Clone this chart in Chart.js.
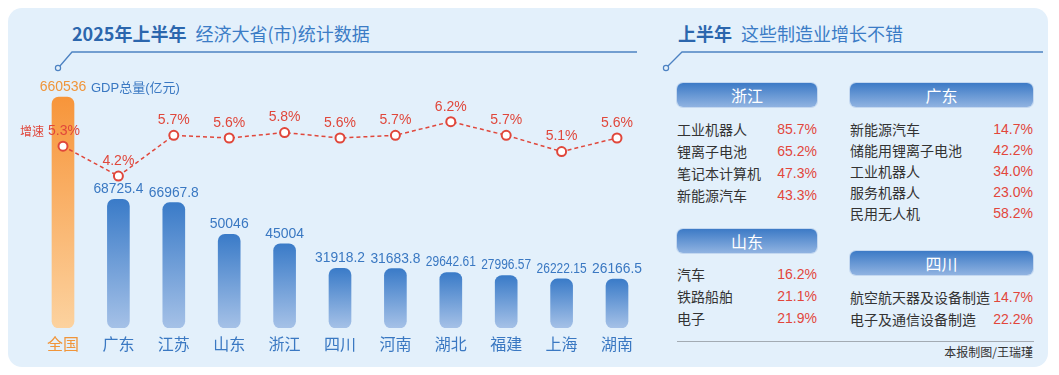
<!DOCTYPE html>
<html>
<head>
<meta charset="utf-8">
<script src="https://cdn.jsdelivr.net/npm/chart.js@4/dist/chart.umd.min.js"></script>
<style>
  html, body { margin: 0; padding: 0; background: #fff; }
  body { width: 1059px; height: 375px; position: relative; overflow: hidden;
         font-family: "Liberation Sans", "Noto Sans CJK SC", sans-serif; }
  .panel { position: absolute; left: 8px; top: 8px; width: 1040px; height: 359px;
           background: #e3f0fb; border-radius: 14px; }
  .title { position: absolute; top: 21px; font-family: "Noto Sans CJK SC", sans-serif;
           font-size: 18px; line-height: 24px; white-space: nowrap; color: #3b7cc6; }
  .title b { color: #2b66ad; font-weight: 700; margin-right: 9px; }
  #chartBox { position: absolute; left: 0; top: 0; }
  .unit { position: absolute; left: 91px; top: 79px; font-size: 13px; line-height: 18px;
          color: #3a78c2; white-space: nowrap; }
  .head { position: absolute; height: 24px; line-height: 24px; border-radius: 6px;
          background: linear-gradient(#3c7ac6, #90b3e1); box-shadow: 0 0 0 1px #c4d8f0;
          color: #fff; text-align: center; font-size: 16px;
          font-family: "Noto Sans CJK SC", sans-serif; }
  .row { position: absolute; height: 20px; line-height: 20px; font-size: 14px; white-space: nowrap; }
  .row .k { position: absolute; left: 0; color: #333; font-family: "Noto Sans CJK SC", sans-serif; }
  .row .v { position: absolute; right: 0; color: #e2463b; }
  .rule { position: absolute; left: 677px; top: 341px; width: 357px; height: 1px; background: #a3abb3; }
  .credit { position: absolute; right: 26px; top: 343px; font-size: 12px; line-height: 18px;
            color: #333; font-family: "Noto Sans CJK SC", sans-serif; }
</style>
</head>
<body>
<div class="panel"></div>

<svg width="1059" height="375" style="position:absolute;left:0;top:0">
  <polyline points="59.5,66.5 72,52 637,52" fill="none" stroke="#4d82c2" stroke-width="1.3"/>
  <circle cx="58" cy="68" r="2.6" fill="#e3f0fb" stroke="#4d82c2" stroke-width="1.2"/>
  <polyline points="667.5,66.5 682,52 1043,52" fill="none" stroke="#4d82c2" stroke-width="1.3"/>
  <circle cx="666" cy="68" r="2.6" fill="#e3f0fb" stroke="#4d82c2" stroke-width="1.2"/>
</svg>

<div class="title" style="left:72px"><b>2025年上半年</b>经济大省(市)统计数据</div>
<div class="title" style="left:678px"><b>上半年</b>这些制造业增长不错</div>

<canvas id="chartBox" width="660" height="375"></canvas>
<div class="unit">GDP总量(亿元)</div>

<div id="tables"></div>
<div class="rule"></div>
<div class="credit">本报制图/王瑞瑾</div>

<script>
// Datos del gráfico
const categories = ['全国', '广东', '江苏', '山东', '浙江', '四川', '河南', '湖北', '福建', '上海', '湖南'];
const gdp = [660536, 68725.4, 66967.8, 50046, 45004, 31918.2, 31683.8, 29642.61, 27996.57, 26222.15, 26166.5];
const gdpText = ['660536', '68725.4', '66967.8', '50046', '45004', '31918.2', '31683.8', '29642.61', '27996.57', '26222.15', '26166.5'];
const growth = [5.3, 4.2, 5.7, 5.6, 5.8, 5.6, 5.7, 6.2, 5.7, 5.1, 5.6];

// Tablas de manufactura
const zjItems = ['工业机器人', '锂离子电池', '笔记本计算机', '新能源汽车'];
const zjRates = [85.7, 65.2, 47.3, 43.3];
const gdItems = ['新能源汽车', '储能用锂离子电池', '工业机器人', '服务机器人', '民用无人机'];
const gdRates = [14.7, 42.2, 34.0, 23.0, 58.2];
const sdItems = ['汽车', '铁路船舶', '电子'];
const sdRates = [16.2, 21.1, 21.9];
const scItems = ['航空航天器及设备制造', '电子及通信设备制造'];
const scRates = [14.7, 22.2];

const BLUE = '#3a78c2';
const ORANGE = '#f0953a';
const RED = '#e0473b';
const NUM_FONT = '"Liberation Sans", Arial, sans-serif';

/**
 * Construye un bloque de tabla (cabecera + filas)
 */
function buildTable(host, name, items, rates, box) {
  const head = document.createElement('div');
  head.className = 'head';
  head.style.left = box.x + 'px';
  head.style.top = box.y + 'px';
  head.style.width = box.w + 'px';
  head.textContent = name;
  host.appendChild(head);

  items.forEach((item, i) => {
    const row = document.createElement('div');
    row.className = 'row';
    row.style.left = box.x + 'px';
    row.style.width = box.w + 'px';
    row.style.top = (box.rowTop + i * box.step - 10) + 'px';
    row.innerHTML = '<span class="k"></span><span class="v"></span>';
    row.querySelector('.k').textContent = item;
    row.querySelector('.v').textContent = rates[i].toFixed(1) + '%';
    host.appendChild(row);
  });
}

const tables = document.getElementById('tables');
buildTable(tables, '浙江', zjItems, zjRates, { x: 677, y: 83, w: 140, rowTop: 129, step: 22 });
buildTable(tables, '广东', gdItems, gdRates, { x: 850, y: 83, w: 183, rowTop: 129, step: 21 });
buildTable(tables, '山东', sdItems, sdRates, { x: 677, y: 229, w: 140, rowTop: 274, step: 22 });
buildTable(tables, '四川', scItems, scRates, { x: 850, y: 251, w: 183, rowTop: 296.5, step: 22 });

/**
 * Degradado vertical para cada barra, de su tope a la base
 */
function barGradient(context, top, bottom) {
  const chart = context.chart;
  if (!chart.chartArea || context.type !== 'data') return top;
  const scale = chart.scales[context.dataset.yAxisID];
  const v = context.raw;
  if (v == null) return top;
  const y0 = scale.getPixelForValue(v);
  const y1 = chart.chartArea.bottom;
  const g = chart.ctx.createLinearGradient(0, y0, 0, y1);
  g.addColorStop(0, top);
  g.addColorStop(1, bottom);
  return g;
}

// Etiquetas de valores encima de barras y puntos
const valueLabels = {
  id: 'valueLabels',
  afterDatasetsDraw(chart) {
    const ctx = chart.ctx;
    ctx.save();
    ctx.textAlign = 'center';
    ctx.textBaseline = 'middle';
    ctx.font = '14px ' + NUM_FONT;

    [1, 2].forEach(di => {
      const data = chart.data.datasets[di].data;
      chart.getDatasetMeta(di).data.forEach((bar, i) => {
        if (data[i] == null) return;
        ctx.fillStyle = i === 0 ? ORANGE : BLUE;
        ctx.fillText(gdpText[i], bar.x, bar.y - 10, 50);
      });
    });

    const pts = chart.getDatasetMeta(0).data;
    pts.forEach((pt, i) => {
      const txt = growth[i].toFixed(1) + '%';
      ctx.fillStyle = RED;
      if (i === 0) {
        ctx.font = '12px "Noto Sans CJK SC", sans-serif';
        const w1 = ctx.measureText('增速').width;
        ctx.font = '14px ' + NUM_FONT;
        const w2 = ctx.measureText(txt).width;
        const x0 = 50 - (w1 + 4 + w2) / 2;
        ctx.textAlign = 'left';
        ctx.font = '12px "Noto Sans CJK SC", sans-serif';
        ctx.fillText('增速', x0, pt.y - 15);
        ctx.font = '14px ' + NUM_FONT;
        ctx.fillText(txt, x0 + w1 + 4, pt.y - 15);
        ctx.textAlign = 'center';
      } else {
        ctx.fillText(txt, pt.x, pt.y - 15);
      }
    });
    ctx.restore();
  }
};

const ctx = document.getElementById('chartBox').getContext('2d');
const chart = new Chart(ctx, {
  type: 'bar',
  data: {
    labels: categories,
    datasets: [
      {
        type: 'line',
        label: '增速',
        data: growth,
        yAxisID: 'yg',
        order: 0,
        borderColor: RED,
        borderWidth: 1.5,
        borderDash: [4, 3],
        pointRadius: 4.5,
        pointBackgroundColor: '#fff',
        pointBorderColor: RED,
        pointBorderWidth: 2,
        tension: 0
      },
      {
        label: '全国',
        data: gdp.map((v, i) => i === 0 ? v : null),
        yAxisID: 'yn',
        order: 1,
        grouped: false,
        barThickness: 22,
        borderRadius: 7,
        borderSkipped: false,
        backgroundColor: c => barGradient(c, '#f7953a', '#fcd29f')
      },
      {
        label: 'GDP',
        data: gdp.map((v, i) => i === 0 ? null : v),
        yAxisID: 'yb',
        order: 1,
        grouped: false,
        barThickness: 22,
        borderRadius: 7,
        borderSkipped: false,
        backgroundColor: c => barGradient(c, '#3a7bc8', '#a5c1e7')
      }
    ]
  },
  options: {
    responsive: false,
    animation: false,
    layout: { padding: { left: 35.3, right: 15.3, top: 60, bottom: 15.8 } },
    plugins: { legend: { display: false }, tooltip: { enabled: false } },
    scales: {
      x: {
        grid: { display: false, drawTicks: false },
        border: { display: false },
        ticks: {
          padding: 6,
          font: { size: 16, family: '"Noto Sans CJK SC", sans-serif' },
          color: c => c.index === 0 ? ORANGE : BLUE
        }
      },
      yb: { display: false, min: 0, max: 143200 },
      yn: { display: false, min: 0, max: 766335 },
      yg: { display: false, min: -1.385, max: 8.468 }
    }
  },
  plugins: [valueLabels]
});
</script>
</body>
</html>
